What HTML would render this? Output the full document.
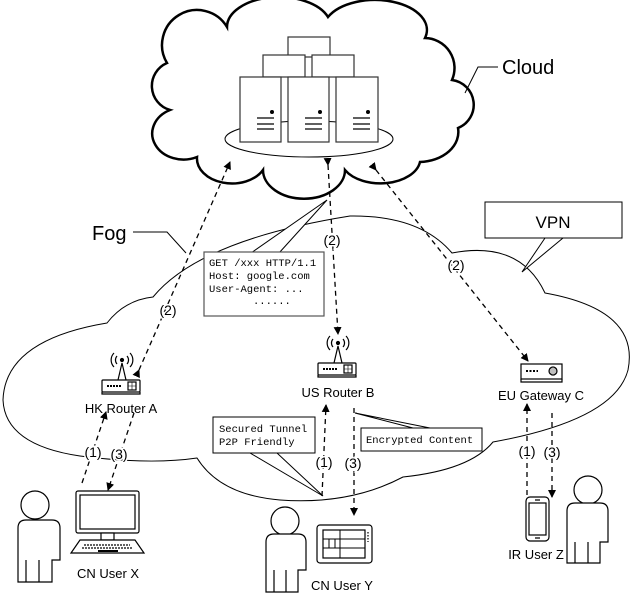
<!DOCTYPE html>
<html><head><meta charset="utf-8"><style>
html,body{margin:0;padding:0;background:#fff;}
svg{display:block;}
.t{font-family:"Liberation Sans",sans-serif;fill:#000;}
.m{font-family:"Liberation Mono",monospace;font-size:10.5px;fill:#000;}
</style></head><body>
<svg width="631" height="599" viewBox="0 0 631 599" xmlns="http://www.w3.org/2000/svg">
<defs>
<marker id="ah" markerWidth="8" markerHeight="8" refX="7" refY="4" orient="auto" markerUnits="userSpaceOnUse">
<path d="M0,0 L8,4 L0,8 Z" fill="#000"/></marker>
</defs>
<path d="M227,27 A52,30 0 0 1 328,17 A52,30 0 0 1 425,38 A30,30 0 0 1 452,80 A25,25 0 0 1 458,128 A40,30 0 0 1 420,162 A40,25 0 0 1 345,170 A40,28 0 0 1 263,170 A35,25 0 0 1 197,157 A30,25 0 0 1 170,110 A25,25 0 0 1 167,63 A32,32 0 0 1 227,27 Z" fill="#fff" stroke="#000" stroke-width="2.5"/>
<ellipse cx="309" cy="139" rx="84" ry="18" fill="#fff" stroke="#000" stroke-width="1"/>
<g fill="#fff" stroke="#333" stroke-width="1.2">
<rect x="288" y="37" width="42" height="20"/>
<rect x="263" y="55" width="42" height="22"/>
<rect x="312" y="55" width="42" height="22"/>
<rect x="240" y="77" width="41" height="65"/>
<rect x="288" y="77" width="41" height="65"/>
<rect x="336" y="77" width="42" height="65"/>
</g>
<g fill="#000"><circle cx="272" cy="112" r="2"/><circle cx="320" cy="112" r="2"/><circle cx="368" cy="112" r="2"/></g>
<g stroke="#000" stroke-width="1.2">
<path d="M257,118h17M257,124h17M257,129h17M305,118h17M305,124h17M305,129h17M353,118h17M353,124h17M353,129h17"/>
</g>
<path d="M465,93 L478,67 L498,67" fill="none" stroke="#000" stroke-width="1"/>
<text x="502" y="74" class="t" font-size="20">Cloud</text>
<path d="M107,323 Q125,300 153,297 Q200,240 350,216 Q420,215 452,253 Q520,240 545,293 Q640,310 628,370 Q615,420 493,442 Q470,470 403,477 Q350,505 280,500 Q220,495 197,458 Q150,465 80,456 Q5,445 3,400 Q5,340 107,323 Z" fill="none" stroke="#000" stroke-width="1"/>
<path d="M133,232 L167,232 L186,253" fill="none" stroke="#000" stroke-width="1"/>
<text x="92" y="240" class="t" font-size="20">Fog</text>
<path d="M545,238 L522,272 L563,238" fill="#fff" stroke="#000" stroke-width="1"/>
<rect x="485" y="202" width="137" height="36" fill="#fff" stroke="#000" stroke-width="1"/>
<text x="553" y="228" class="t" font-size="17" text-anchor="middle">VPN</text>
<g stroke="#000" stroke-width="1.3" stroke-dasharray="5,4" fill="none">
<path d="M139,370 L230,162" marker-start="url(#ah)" marker-end="url(#ah)"/>
<path d="M328,165 L338,334" marker-start="url(#ah)" marker-end="url(#ah)"/>
<path d="M376,170 L528,361" marker-start="url(#ah)" marker-end="url(#ah)"/>
<path d="M82,483 L106,412" marker-end="url(#ah)"/>
<path d="M134,413 L108,490" marker-end="url(#ah)"/>
<path d="M322,496 L326,405" marker-end="url(#ah)"/>
<path d="M354,408 L354,515" marker-end="url(#ah)"/>
<path d="M527,495 L527,404" marker-end="url(#ah)"/>
<path d="M552,413 L552,497" marker-end="url(#ah)"/>
</g>
<g class="t" font-size="14" text-anchor="middle">
<text x="168" y="315" style="paint-order:stroke" stroke="#fff" stroke-width="3">(2)</text>
<text x="332" y="245" style="paint-order:stroke" stroke="#fff" stroke-width="3">(2)</text>
<text x="456" y="270" style="paint-order:stroke" stroke="#fff" stroke-width="3">(2)</text>
<text x="93" y="457" style="paint-order:stroke" stroke="#fff" stroke-width="3">(1)</text>
<text x="119" y="459" style="paint-order:stroke" stroke="#fff" stroke-width="3">(3)</text>
<text x="324" y="467" style="paint-order:stroke" stroke="#fff" stroke-width="3">(1)</text>
<text x="353" y="468" style="paint-order:stroke" stroke="#fff" stroke-width="3">(3)</text>
<text x="527" y="456" style="paint-order:stroke" stroke="#fff" stroke-width="3">(1)</text>
<text x="552" y="457" style="paint-order:stroke" stroke="#fff" stroke-width="3">(3)</text>
</g>
<path d="M251,253 L327,200 L279,253" fill="#fff" stroke="#000" stroke-width="1"/>
<rect x="204" y="252" width="120" height="64" fill="#fff" stroke="#555" stroke-width="1.2"/>
<text x="209" y="266" class="m">GET /xxx HTTP/1.1</text>
<text x="209" y="279" class="m">Host: google.com</text>
<text x="209" y="292" class="m">User-Agent: ...</text>
<text x="253" y="304" class="m">......</text>
<path d="M250,453 L323,496 L277,453" fill="#fff" stroke="#000" stroke-width="1"/>
<rect x="213" y="417" width="102" height="36" fill="#fff" stroke="#000" stroke-width="1"/>
<text x="219" y="432" class="m">Secured Tunnel</text>
<text x="219" y="445" class="m">P2P Friendly</text>
<path d="M413,428 L355,413 L430,428" fill="#fff" stroke="#000" stroke-width="1"/>
<rect x="361" y="428" width="121" height="23" fill="#fff" stroke="#000" stroke-width="1"/>
<text x="366" y="443" class="m">Encrypted Content</text>
<g id="rA" fill="none" stroke="#000" stroke-width="1.2">
<rect x="102" y="380" width="38" height="12" fill="#fff" rx="1"/>
<path d="M102,392 v2 h38 v-2" />
<path d="M118,380 L122,363 L126,380"/>
<rect x="128" y="382" width="8" height="8"/>
<path d="M128,386h8M132,382v8" stroke-width="0.6"/>
<path d="M117,364 a6,6 0 0 1 0,-8 M127,356 a6,6 0 0 1 0,8 M114,367 a10,10 0 0 1 0,-14 M130,353 a10,10 0 0 1 0,14"/>
<circle cx="122" cy="360" r="1.5" fill="#000"/>
<path d="M107,386h14" stroke-dasharray="2,1" stroke-width="2"/>
</g>
<use href="#rA" x="216" y="-17"/>
<text x="121" y="413" class="t" font-size="13" text-anchor="middle">HK Router A</text>
<text x="338" y="397" class="t" font-size="13" text-anchor="middle">US Router B</text>
<g fill="none" stroke="#000" stroke-width="1.2">
<rect x="521" y="364" width="41" height="15" fill="#fff"/>
<path d="M521,379 v3 h41 v-3"/>
<path d="M526,371h12" stroke-dasharray="2,1.5" stroke-width="2"/>
<circle cx="553" cy="371" r="4"/>
<path d="M549,369h8M549,371h8M549,373h8" stroke-width="0.6"/>
</g>
<text x="541" y="400" class="t" font-size="13" text-anchor="middle">EU Gateway C</text>
<g fill="#fff" stroke="#000" stroke-width="1.2">
<circle cx="35" cy="505" r="14"/>
<path d="M18,582 V528 Q18,520 26,520 H52 Q60,520 60,528 V560 H52 V582 Z M39,560 V582 M26,560 V582"/>
<circle cx="285" cy="521" r="14"/>
<path d="M266,592 V542 Q266,534 274,534 H298 Q306,534 306,542 V570 H298 V592 Z M286,570 V592 M274,570 V592"/>
<circle cx="588" cy="490" r="14"/>
<path d="M567,563 V511 Q567,503 575,503 H600 Q608,503 608,511 V542 H600 V563 Z M588,542 V563 M575,542 V563"/>
</g>
<g fill="#fff" stroke="#000" stroke-width="1.2">
<rect x="76" y="491" width="63" height="42" rx="2"/>
<rect x="80" y="495" width="55" height="34"/>
<rect x="101" y="533" width="13" height="7"/>
<path d="M80,540 H135 L144,553 H71 Z"/>
<path d="M84,545h46M82,548h50" stroke-dasharray="2,1"/>
<path d="M98,551h20" stroke-width="2"/>
</g>
<text x="108" y="578" class="t" font-size="13" text-anchor="middle">CN User X</text>
<g fill="#fff" stroke="#000" stroke-width="1.2">
<rect x="317" y="525" width="55" height="38" rx="3"/>
<rect x="323" y="530" width="42" height="28"/>
<path d="M323,539h42M323,548h42M340,530v28M329,539v9M335,539v9" stroke-width="1"/>
<path d="M368,532v10" stroke-dasharray="1.5,1.5"/>
</g>
<text x="342" y="590" class="t" font-size="13" text-anchor="middle">CN User Y</text>
<g fill="#fff" stroke="#000" stroke-width="1.2">
<rect x="526" y="497" width="23" height="44" rx="4"/>
<rect x="529" y="503" width="17" height="32"/>
<path d="M535,500h5M535,538h5"/>
</g>
<text x="536" y="559" class="t" font-size="13" text-anchor="middle">IR User Z</text>
</svg>
</body></html>
